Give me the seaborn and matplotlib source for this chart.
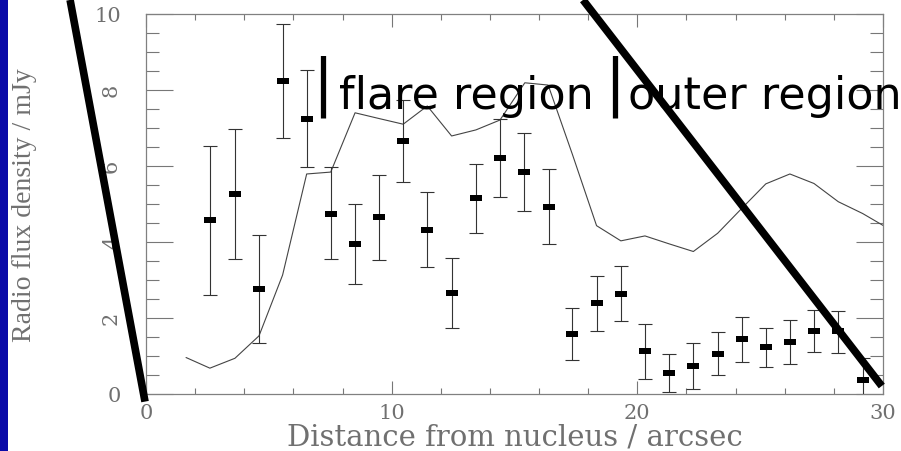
import numpy as np
import matplotlib
matplotlib.use("Agg")
import matplotlib.pyplot as plt
import seaborn as sns
from matplotlib.ticker import MultipleLocator
from matplotlib.patches import Rectangle
from matplotlib.path import Path

# ---------------- data ----------------
distance = [2.60, 3.62, 4.60, 5.56, 6.54, 7.52, 8.51, 9.48, 10.47, 11.45,
            12.44, 13.43, 14.41, 15.38, 16.39, 17.36, 18.35, 19.33, 20.31, 21.30,
            22.28, 23.27, 24.26, 25.23, 26.21, 27.19, 28.18, 29.17]
flux = [4.57, 5.26, 2.77, 8.23, 7.25, 4.75, 3.94, 4.65, 6.67, 4.32,
        2.65, 5.15, 6.20, 5.83, 4.93, 1.59, 2.39, 2.64, 1.12, 0.55,
        0.74, 1.06, 1.44, 1.24, 1.36, 1.67, 1.66, 0.38]
flux_low = [2.60, 3.55, 1.34, 6.74, 5.97, 3.54, 2.89, 3.52, 5.58, 3.33,
            1.73, 4.24, 5.18, 4.81, 3.95, 0.89, 1.66, 1.92, 0.39, 0.05,
            0.13, 0.49, 0.85, 0.70, 0.78, 1.11, 1.09, -0.20]
flux_high = [6.53, 6.97, 4.19, 9.73, 8.53, 5.97, 4.99, 5.77, 7.74, 5.31,
             3.57, 6.05, 7.24, 6.86, 5.91, 2.27, 3.11, 3.36, 1.85, 1.04,
             1.33, 1.64, 2.02, 1.75, 1.95, 2.22, 2.18, 0.94]

model_distance = [1.63, 2.60, 3.62, 4.60, 5.56, 6.54, 7.52, 8.51, 9.48, 10.47,
                  11.45, 12.44, 13.43, 14.41, 15.42, 16.37, 17.36, 18.34, 19.33, 20.31,
                  21.30, 22.28, 23.27, 24.26, 25.23, 26.21, 27.19, 28.18, 29.17, 30.15]
model_flux = [0.96, 0.68, 0.94, 1.53, 3.13, 5.79, 5.84, 7.40, 7.25, 7.10,
              7.58, 6.79, 6.95, 7.21, 8.19, 8.13, 6.30, 4.43, 4.03, 4.16,
              3.95, 3.75, 4.23, 4.89, 5.53, 5.79, 5.54, 5.06, 4.75, 4.38]

# hand-drawn strokes across the slide (data units)
left_stroke_x = [-3.09, -0.04]
left_stroke_y = [10.37, -0.20]
right_stroke_x = [17.79, 29.95]
right_stroke_y = [10.37, 0.21]

x_ticks = [0, 10, 20, 30]
x_tick_labels = ["0", "10", "20", "30"]
y_ticks = [0, 2, 4, 6, 8, 10]
y_tick_labels = ["0", "2", "4", "6", "8", "10"]
x_label = "Distance from nucleus / arcsec"
y_label = "Radio flux density / mJy"
region_labels = ["flare region", "outer region"]

# ---------------- figure ----------------
sns.set_theme(style="white")
plt.rcParams["font.family"] = ["DejaVu Sans"]

W, H = 901, 451
fig = plt.figure(figsize=(W / 100, H / 100), dpi=100)
fig.patch.set_facecolor("white")
fig.patches.append(Rectangle((0, 0), 8 / W, 1, transform=fig.transFigure,
                             facecolor="#0a0aa8", edgecolor="none", zorder=0))

ax = fig.add_axes([146 / W, (H - 394) / H, (883 - 146) / W, (394 - 14) / H])
ax.set_facecolor("white")

ink = "#333333"
label_grey = "#707070"

# model curve
sns.lineplot(x=model_distance, y=model_flux, ax=ax, color="#444444",
             linewidth=0.8, estimator=None, sort=False, zorder=2)

# error bars
f = np.array(flux)
ax.errorbar(distance, flux,
            yerr=[f - np.array(flux_low), np.array(flux_high) - f],
            fmt="none", ecolor=ink, elinewidth=0.8, capsize=5, capthick=0.8,
            zorder=3)

# rectangular markers
rect = Path([(-1, -0.45), (1, -0.45), (1, 0.45), (-1, 0.45), (-1, -0.45)],
            [Path.MOVETO, Path.LINETO, Path.LINETO, Path.LINETO, Path.CLOSEPOLY])
sns.scatterplot(x=distance, y=flux, ax=ax, marker=rect, s=72, color="black",
                linewidth=0, zorder=4)

ax.set_xlim(0, 30)
ax.set_ylim(0, 10)

# ticks
ax.set_xticks(x_ticks)
ax.set_xticklabels(x_tick_labels)
ax.set_yticks(y_ticks)
ax.set_yticklabels(y_tick_labels)
ax.xaxis.set_minor_locator(MultipleLocator(2))
ax.yaxis.set_minor_locator(MultipleLocator(0.5))
ax.tick_params(axis="y", which="major", direction="in", length=19.4, width=0.8,
               left=True, right=True, color="#777777", pad=18,
               labelsize=15, labelcolor=label_grey)
ax.tick_params(axis="y", which="minor", direction="in", length=9.4, width=0.8,
               left=True, right=True, color="#777777")
ax.tick_params(axis="x", which="major", direction="in", length=9.4, width=0.8,
               bottom=True, top=True, color="#777777", pad=7,
               labelsize=15, labelcolor=label_grey)
ax.tick_params(axis="x", which="minor", direction="in", length=4.3, width=0.8,
               bottom=True, top=True, color="#777777")
for lbl in ax.get_xticklabels() + ax.get_yticklabels():
    lbl.set_fontfamily("DejaVu Serif")
for lbl in ax.get_yticklabels():
    if lbl.get_text() not in ("0", "10"):
        lbl.set_rotation(90)
        lbl.set_va("center")

for sp in ax.spines.values():
    sp.set_color("#808080")
    sp.set_linewidth(0.9)
    sp.set_visible(True)

# axis labels
ax.set_xlabel(x_label, fontsize=21, color=label_grey, family="DejaVu Serif")
ax.xaxis.set_label_coords(0.5, (394 - 438) / 380)
ax.xaxis.label.set_va("center")
ax.set_ylabel(y_label, fontsize=20, color=label_grey, family="Liberation Serif")
ax.yaxis.set_label_coords((25 - 146) / 737, (394 - 205) / 380)
ax.yaxis.label.set_va("center")

# hand-drawn strokes
ax.plot(left_stroke_x, left_stroke_y, color="black", linewidth=5.5,
        solid_capstyle="butt", clip_on=False, zorder=6)
ax.plot(right_stroke_x, right_stroke_y, color="black", linewidth=5.5,
        solid_capstyle="butt", clip_on=False, zorder=6)

# region annotation
def fx(px):
    return px / W

def fy(py):
    return 1 - py / H

fig.text(fx(322.5), fy(103), "|", fontsize=45, ha="center", va="baseline", color="black")
fig.text(fx(615), fy(103), "|", fontsize=45, ha="center", va="baseline", color="black")
fig.text(fx(339), fy(109), region_labels[0], fontsize=32, ha="left", va="baseline", color="black")
fig.text(fx(628), fy(109), region_labels[1], fontsize=32, ha="left", va="baseline", color="black")

fig.savefig("out.png", dpi=100)
